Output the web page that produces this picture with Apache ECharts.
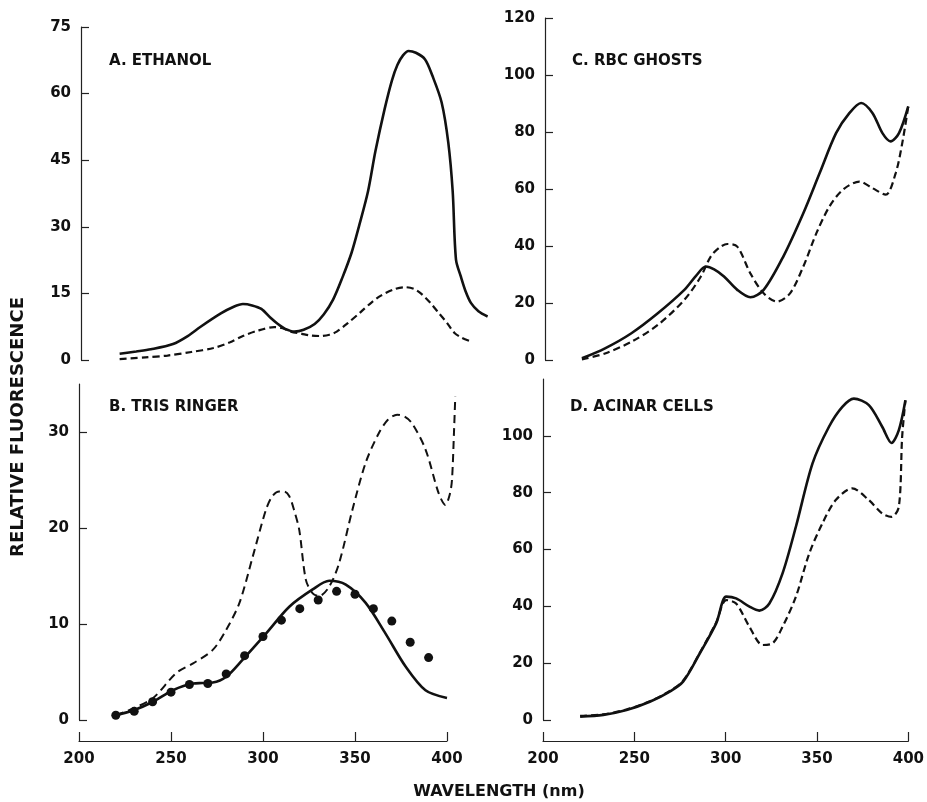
<!DOCTYPE html>
<html>
<head>
<meta charset="utf-8">
<script src="https://cdn.jsdelivr.net/npm/echarts@6/dist/echarts.min.js"></script>
<style>
html,body{margin:0;padding:0;background:#fff;}
#chart{width:927px;height:802px;}
</style>
</head>
<body>
<div id="chart"></div>
<script>
// ---- Data (wavelength nm, relative fluorescence) ----
const panelTitles = ['A. ETHANOL', 'B. TRIS RINGER', 'C. RBC GHOSTS', 'D. ACINAR CELLS'];
const xTicks = [200, 250, 300, 350, 400];

const ethanolSolid = [[221,1.4],[230,1.9],[238,2.4],[250,3.6],[258,5.4],[265,7.5],[276,10.5],[283,12.0],[288,12.6],[293,12.3],[298,11.5],[303,9.5],[307,8.1],[311,7.0],[316,6.4],[321,6.8],[327,8.1],[332,10.3],[337,13.6],[342,18.5],[347,24.1],[351,30],[356,38],[360,47],[365,56.5],[369,63],[372,66.5],[375,68.6],[378,69.6],[382,69.2],[387,67.7],[391,64],[396,58],[399.6,49],[402,38],[403.8,22.6],[406.5,18.7],[409,15.5],[412,12.8],[416,11],[421,9.8]];
const ethanolDashed = [[221,0.2],[235,0.6],[247,1.0],[260,1.8],[272,2.7],[281,4.0],[288,5.4],[296,6.6],[305,7.4],[309,7.2],[314,6.4],[320,5.9],[325,5.5],[330,5.4],[335,5.7],[339,6.4],[345,8.3],[352,10.8],[358,13.0],[363,14.5],[370,15.9],[376,16.4],[381,16.0],[385,14.9],[390,12.8],[394,10.8],[399,8.3],[403,6.1],[407,5.0],[411,4.3]];

const trisSolid = [[219.5,0.5],[229.4,1.0],[240.3,1.9],[251,3.1],[262,3.8],[267,3.85],[272.7,3.9],[280,4.5],[289,6.3],[301.6,9.0],[314.3,11.8],[327,13.6],[336,14.5],[345,14.1],[355.8,12.2],[366.6,9.0],[377.4,5.6],[388.3,3.1],[400,2.3]];
const trisDashed = [[220,0.5],[229.4,1.2],[240.3,2.3],[252.9,4.9],[262,5.9],[272.7,7.3],[280,9.4],[287.2,12.2],[294.4,17.0],[301.6,21.9],[305,23.3],[308.8,23.8],[311.5,23.8],[314.3,23.3],[317,21.8],[319.7,19.8],[323.3,14.6],[327,13.2],[330.5,12.9],[336,13.9],[341.3,16.3],[348.6,21.9],[355.8,26.8],[363,29.9],[368,31.3],[372.9,31.8],[377,31.6],[381,30.9],[388.3,28.2],[395.5,23.6],[399.1,22.4],[401.5,23.5],[402.7,25.0],[403.8,30],[404.5,33.7]];
const trisDots = [[220,0.5],[230,0.9],[240,1.9],[250,2.9],[260,3.7],[270,3.8],[280,4.8],[290,6.7],[300,8.7],[310,10.4],[320,11.6],[330,12.5],[340,13.4],[350,13.1],[360,11.6],[370,10.3],[380,8.1],[390,6.5]];

const rbcSolid = [[220.3,0.6],[233,4.1],[247.5,9.4],[262,16.4],[276.6,24.6],[283,29.5],[288.4,32.8],[293,31.8],[298.4,29.3],[305.7,24.6],[312.9,22.0],[320.2,24.6],[331,36.3],[342,51.5],[351,65.6],[360,79.6],[367.4,86.7],[373.8,90.2],[380,86.7],[385.5,79.6],[390,76.7],[394.6,79.6],[399.7,89.0]];
const rbcDashed = [[220.3,0.2],[233,2.3],[247.5,6.4],[262,12.3],[276.6,21.1],[285.7,29.3],[291.1,36.3],[296,39.5],[300.2,40.7],[305.7,39.8],[312.9,30.4],[320.2,23.4],[327.5,20.5],[334.7,23.4],[342,32.8],[349.2,44.5],[356.4,53.9],[363.7,59.7],[372.8,62.6],[380,60.3],[387.3,58.0],[392.8,65.6],[396.4,76.1],[399.7,89.0]];

const acinarSolid = [[220.3,1.2],[233,1.8],[245.7,3.5],[258.4,6.4],[269.3,10.0],[276.6,13.5],[285.7,23.4],[294.7,34.0],[300.2,43.4],[305.6,42.8],[312.9,39.9],[318.3,38.5],[323.8,41.0],[331,51.6],[338.3,68.0],[347.4,90.3],[356.4,103.2],[363.7,110.2],[370,113.1],[378.2,110.8],[385.5,103.2],[390.6,97.5],[394.6,102.0],[398.2,112.5]];
const acinarDashed = [[220.3,1.5],[233,2.0],[245.7,3.7],[258.4,6.6],[269.3,10.2],[276.6,13.8],[285.7,23.6],[294.7,34.3],[300.2,42.2],[305.6,41.0],[312.9,32.8],[320.1,26.4],[325.6,27.0],[331,32.8],[338.3,43.4],[345.6,58.6],[352.8,69.2],[360.1,77.4],[369.1,81.5],[378.2,77.4],[385.5,72.7],[390.6,71.5],[394.6,75.0],[396.4,99.6],[398.2,112.5]];

// ---- Chart ----
const FONT = '"DejaVu Sans", "Liberation Sans", sans-serif';
const INK = '#111';
const AX = '#222';
const chart = echarts.init(document.getElementById('chart'));

function yAxisCfg(gridIndex, max, interval, hideMax, show) {
  return {
    type: 'value', gridIndex, min: 0, max, interval, show: show !== false,
    axisLine: {show: true, onZero: false, lineStyle: {color: AX, width: 1.2}},
    axisTick: {show: true, inside: true, length: 8, lineStyle: {color: AX, width: 1.2}},
    axisLabel: {color: INK, fontFamily: FONT, fontWeight: 'bold', fontSize: 15, margin: 10,
      showMaxLabel: !hideMax},
    splitLine: {show: false}
  };
}
function xAxisCfg(gridIndex, max, show, offset) {
  return {
    type: 'value', gridIndex, min: 200, max, interval: 50, show,
    offset: offset || 0,
    axisLine: {show: true, onZero: false, lineStyle: {color: AX, width: 1.2}},
    axisTick: {show: true, inside: true, length: 9, lineStyle: {color: AX, width: 1.2}},
    axisLabel: {color: INK, fontFamily: FONT, fontWeight: 'bold', fontSize: 15, margin: 11},
    splitLine: {show: false}
  };
}
function line(data, idx, dashed, width, dash) {
  return {
    type: 'line', xAxisIndex: idx, yAxisIndex: idx, data, clip: false,
    smooth: 0.3, showSymbol: false, symbol: 'none',
    lineStyle: {color: INK, width: width, type: dashed ? (dash || [7, 4]) : 'solid'},
    silent: true, animation: false
  };
}

const pxPerNm = 1.84;
const option = {
  backgroundColor: '#fff',
  animation: false,
  grid: [
    {left: 81, top: 27, width: 220 * pxPerNm, height: 333},
    {left: 79, top: 384, width: 210 * pxPerNm, height: 336},
    {left: 545, top: 18, width: 210 * pxPerNm, height: 342},
    {left: 543, top: 379, width: 210 * pxPerNm, height: 341},
    {left: 79, top: 730, width: 200 * pxPerNm, height: 11},
    {left: 543, top: 730, width: 200 * pxPerNm, height: 11}
  ],
  xAxis: [
    xAxisCfg(0, 420, false),
    xAxisCfg(1, 410, false),
    xAxisCfg(2, 410, false),
    xAxisCfg(3, 410, false),
    xAxisCfg(4, 400, true),
    xAxisCfg(5, 400, true)
  ],
  yAxis: [
    yAxisCfg(0, 75, 15, false),
    yAxisCfg(1, 35, 10, true),
    yAxisCfg(2, 120, 20, false),
    yAxisCfg(3, 120, 20, true),
    yAxisCfg(4, 1, 1, true, false),
    yAxisCfg(5, 1, 1, true, false)
  ],
  graphic: [
    {type: 'text', left: 109, top: 54, style: {text: panelTitles[0], font: 'bold 15px ' + FONT, fill: INK}},
    {type: 'text', left: 109, top: 400, style: {text: panelTitles[1], font: 'bold 15px ' + FONT, fill: INK}},
    {type: 'text', left: 572, top: 54, style: {text: panelTitles[2], font: 'bold 15px ' + FONT, fill: INK}},
    {type: 'text', left: 570, top: 400, style: {text: panelTitles[3], font: 'bold 15px ' + FONT, fill: INK}},
    {type: 'text', x: 18, y: 427, rotation: Math.PI / 2,
      style: {text: 'RELATIVE FLUORESCENCE', font: 'bold 18px ' + FONT, fill: INK, align: 'center', verticalAlign: 'middle'}},
    {type: 'text', x: 499, y: 792,
      style: {text: 'WAVELENGTH (nm)', font: 'bold 16px ' + FONT, fill: INK, align: 'center', verticalAlign: 'middle'}}
  ],
  series: [
    line(ethanolSolid, 0, false, 2.6),
    line(ethanolDashed, 0, true, 2.2),
    line(trisDashed, 1, true, 2, [8, 5]),
    line(trisSolid, 1, false, 2.6),
    {
      type: 'scatter', xAxisIndex: 1, yAxisIndex: 1, data: trisDots, clip: false,
      symbol: 'circle', symbolSize: 9, itemStyle: {color: INK, opacity: 1}, silent: true, animation: false
    },
    line(rbcSolid, 2, false, 2.6),
    line(rbcDashed, 2, true, 2.2),
    line(acinarSolid, 3, false, 2.6),
    line(acinarDashed, 3, true, 2.2)
  ]
};
chart.setOption(option);
</script>
</body>
</html>
